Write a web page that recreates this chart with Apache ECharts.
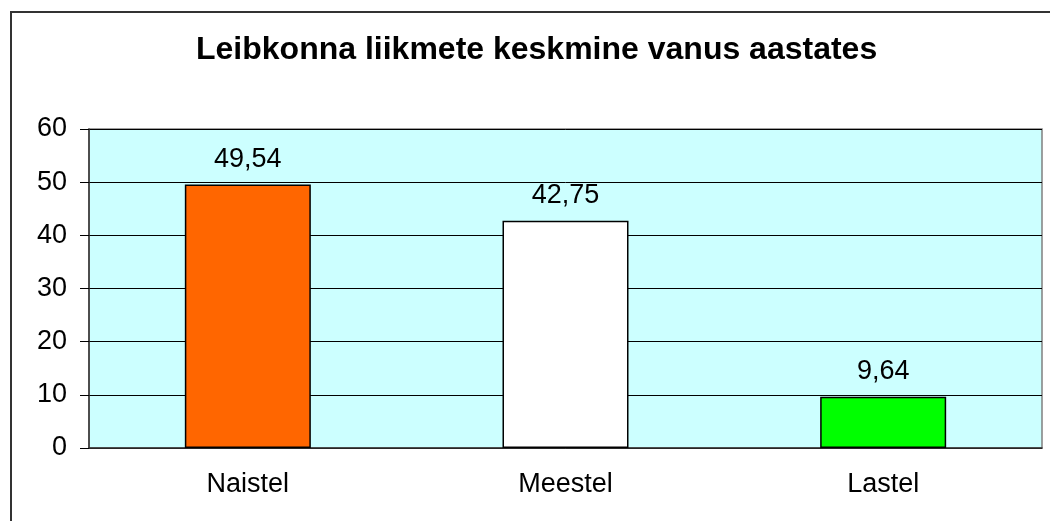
<!DOCTYPE html>
<html>
<head>
<meta charset="utf-8">
<script src="https://cdn.jsdelivr.net/npm/echarts@6/dist/echarts.min.js"></script>
<style>
  html, body { margin: 0; padding: 0; background: #fff; }
  #chart { width: 1050px; height: 521px; }
</style>
</head>
<body>
<div id="chart"></div>
<script>
// andmed
const categories = ['Naistel', 'Meestel', 'Lastel'];
const values = [49.54, 42.75, 9.64];
const barColors = ['#FF6600', '#FFFFFF', '#00FF00'];
const yTicks = [0, 10, 20, 30, 40, 50, 60];

const font = '"Liberation Sans", Arial, sans-serif';

let myChart = echarts.init(document.getElementById('chart'));
myChart.setOption({
    animation: false,
    title: {
        text: 'Leibkonna liikmete keskmine vanus aastates',
        left: 196,
        top: 34,
        padding: 0,
        textStyle: {
            fontFamily: font,
            fontSize: 32,
            fontWeight: 'bold',
            color: '#000'
        }
    },
    // välimine raam
    graphic: [{
        type: 'rect',
        shape: { x: 11, y: 12, width: 1100, height: 600 },
        style: { fill: 'none', stroke: '#333', lineWidth: 2 },
        silent: true
    }],
    grid: {
        left: 89,
        top: 129,
        right: 8,
        bottom: 73,
        show: true,
        backgroundColor: '#CCFFFF',
        borderColor: '#808080',
        borderWidth: 1.5
    },
    xAxis: {
        type: 'category',
        data: categories,
        axisLine: { lineStyle: { color: '#333', width: 1.5 } },
        axisTick: { length: 8, lineStyle: { color: '#333', width: 1.5 } },
        axisLabel: {
            margin: 23,
            fontFamily: font,
            fontSize: 27,
            color: '#000'
        }
    },
    yAxis: {
        type: 'value',
        min: yTicks[0],
        max: yTicks[yTicks.length - 1],
        interval: 10,
        axisLine: { show: true, lineStyle: { color: '#333', width: 1.5 } },
        axisTick: { show: true, length: 9, lineStyle: { color: '#000' } },
        splitLine: { lineStyle: { color: '#000', width: 1 } },
        axisLabel: {
            margin: 22,
            fontFamily: font,
            fontSize: 27,
            color: '#000'
        }
    },
    series: [{
        type: 'bar',
        barWidth: 126,
        data: values.map((v, i) => ({
            value: v,
            itemStyle: { color: barColors[i] }
        })),
        itemStyle: { borderColor: '#000', borderWidth: 1.5 },
        label: {
            show: true,
            position: 'top',
            distance: 12,
            fontFamily: font,
            fontSize: 27,
            color: '#000',
            formatter: p => p.value.toFixed(2).replace('.', ',')
        }
    }]
});
</script>
</body>
</html>
